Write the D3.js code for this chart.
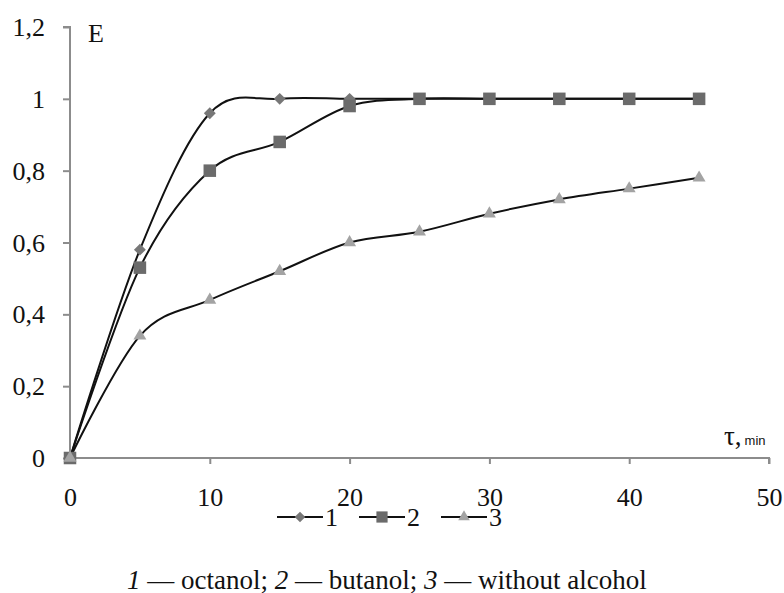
<!DOCTYPE html>
<html><head><meta charset="utf-8">
<script src="https://cdn.jsdelivr.net/npm/d3@7"></script>
<style>body{margin:0;background:#fff}svg{display:block}
text{font-family:'Liberation Serif','Times New Roman','DejaVu Serif',serif;}</style>
</head><body>
<svg id="c" width="784" height="593"></svg>
<script>
const times = [0, 5, 10, 15, 20, 25, 30, 35, 40, 45];
const octanol = [0, 0.58, 0.96, 1.0, 1.0, 1.0, 1.0, 1.0, 1.0, 1.0];
const butanol = [0, 0.53, 0.80, 0.88, 0.98, 1.0, 1.0, 1.0, 1.0, 1.0];
const noAlcohol = [0, 0.34, 0.44, 0.52, 0.60, 0.63, 0.68, 0.72, 0.75, 0.78];
const xTicks = [0, 10, 20, 30, 40, 50];
const yTicks = [0, 0.2, 0.4, 0.6, 0.8, 1.0, 1.2];
const yTickLabels = ["0", "0,2", "0,4", "0,6", "0,8", "1", "1,2"];
const seriesNames = ["1", "2", "3"];

const svg = d3.select("#c");
const x = d3.scaleLinear().domain([0, 50]).range([70, 769]);
const y = d3.scaleLinear().domain([0, 1.2]).range([458, 27]);
const FS = 26;
const axisCol = "#8c8c8c";

// y axis
const ya = svg.append("g").attr("transform", `translate(${x(0)},0)`)
  .call(d3.axisLeft(y).tickValues(yTicks).tickSize(7).tickFormat((d,i)=>yTickLabels[i]));
ya.attr("font-family", null).attr("font-size", null);
ya.select(".domain").attr("stroke", axisCol).attr("stroke-width", 2).attr("d", `M-7,${y(1.2)}H0V${y(0)}`);
ya.selectAll(".tick line").attr("stroke", axisCol).attr("stroke-width", 2);
ya.selectAll(".tick text").attr("x", -25).attr("dy", "0.33em").style("font-size", FS + "px").attr("fill", "#111");

// x axis
const xa = svg.append("g").attr("transform", `translate(0,${y(0)})`)
  .call(d3.axisBottom(x).tickValues(xTicks).tickSize(6));
xa.attr("font-family", null).attr("font-size", null);
xa.select(".domain").attr("stroke", axisCol).attr("stroke-width", 2).attr("d", `M${x(0)},0H${x(50)}V6`);
xa.selectAll(".tick line").attr("stroke", axisCol).attr("stroke-width", 2);
xa.selectAll(".tick text").attr("y", 39).attr("dy", "0.33em").style("font-size", FS + "px").attr("fill", "#111");

// axis titles
svg.append("text").attr("x", 88).attr("y", 42).style("font-size", FS + "px").attr("fill", "#111").text("E");
const tt = svg.append("text").attr("x", 724).attr("y", 445).attr("fill", "#111");
tt.append("tspan").style("font-size", "27px").text("τ,");
tt.append("tspan").style("font-family", "'Liberation Sans',Arial,sans-serif").style("font-size", "13px").attr("dx", 3).text("min");

const line = d3.line().x((d,i)=>x(times[i])).y(d=>y(d)).curve(d3.curveCardinal.tension(0));

const series = [
  {name: seriesNames[0], vals: octanol, sym: d3.symbolDiamond2, size: 90, col: "#777"},
  {name: seriesNames[1], vals: butanol, sym: d3.symbolSquare2, size: 200, col: "#6b6b6b"},
  {name: seriesNames[2], vals: noAlcohol, sym: d3.symbolTriangle2, size: 120, col: "#a3a3a3"}
];

series.forEach(s => {
  svg.append("path").attr("d", line(s.vals)).attr("fill", "none").attr("stroke", "#111").attr("stroke-width", 2);
});
series.forEach(s => {
  svg.append("g").selectAll("path").data(s.vals).join("path")
    .attr("transform", (d,i)=>`translate(${x(times[i])},${y(d)})`)
    .attr("d", d3.symbol().type(s.sym).size(s.size)())
    .attr("fill", s.col).attr("stroke", "none");
});

// legend
const legX = [277, 359, 441];
series.forEach((s, i) => {
  const g = svg.append("g").attr("transform", `translate(${legX[i]},517)`);
  g.append("line").attr("x1", 0).attr("x2", 46).attr("y1", 0).attr("y2", 0).attr("stroke", "#111").attr("stroke-width", 2);
  g.append("path").attr("transform", "translate(23,0)").attr("d", d3.symbol().type(s.sym).size(s.size * 0.8)()).attr("fill", s.col);
  g.append("text").attr("x", 48).attr("y", 9).style("font-size", FS + "px").attr("fill", "#111").text(s.name);
});

// caption
const cap = svg.append("text").attr("x", 127).attr("y", 589).style("font-size", "27px").attr("fill", "#111");
const parts = [["1", true], [" — octanol; ", false], ["2", true], [" — butanol; ", false], ["3", true], [" — without alcohol", false]];
parts.forEach(p => cap.append("tspan").style("font-style", p[1] ? "italic" : "normal").text(p[0]));
</script>
</body></html>
